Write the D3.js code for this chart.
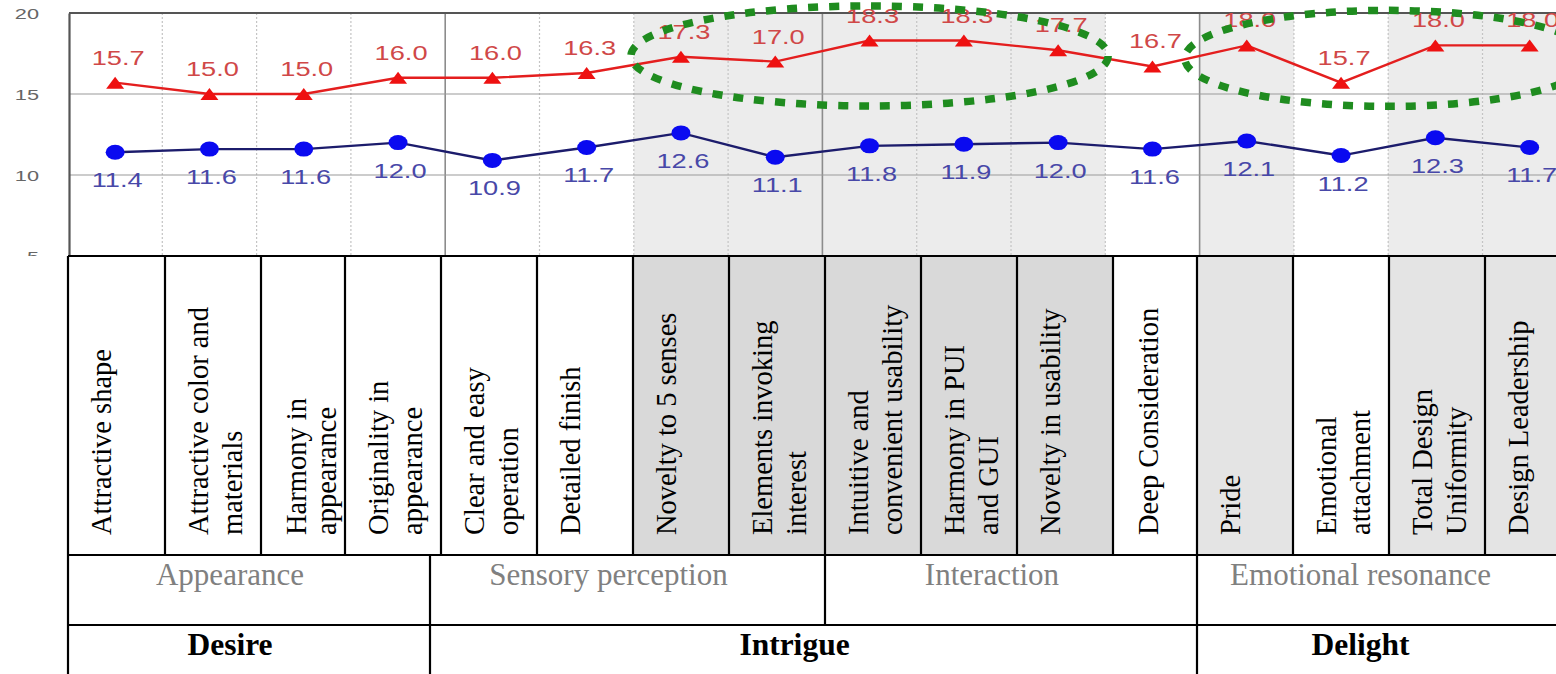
<!DOCTYPE html>
<html><head><meta charset="utf-8">
<script src="https://cdn.jsdelivr.net/npm/d3@7"></script>
<style>html,body{margin:0;padding:0;background:#fff;overflow:hidden}svg{display:block}</style>
</head><body>
<svg id="chart" width="1556" height="674"></svg>
<script>
// ---------------- data ----------------
const categories = [
  "Attractive shape",
  "Attractive color and\nmaterials",
  "Harmony in\nappearance",
  "Originality in\nappearance",
  "Clear and easy\noperation",
  "Detailed finish",
  "Novelty to 5 senses",
  "Elements invoking\ninterest",
  "Intuitive and\nconvenient usability",
  "Harmony in PUI\nand GUI",
  "Novelty in usability",
  "Deep Consideration",
  "Pride",
  "Emotional\nattachment",
  "Total Design\nUniformity",
  "Design Leadership"
];
const upperSeries = [15.7,15.0,15.0,16.0,16.0,16.3,17.3,17.0,18.3,18.3,17.7,16.7,18.0,15.7,18.0,18.0];
const lowerSeries = [11.4,11.6,11.6,12.0,10.9,11.7,12.6,11.1,11.8,11.9,12.0,11.6,12.1,11.2,12.3,11.7];
const yTicks = [5,10,15,20];
const subGroups = ["Appearance","Sensory perception","Interaction","Emotional resonance"];
const subGroupStart = [0,4,8,12];
const mainGroups = ["Desire","Intrigue","Delight"];
const mainGroupStart = [0,4,12];
const shadedA = [6,7,8,9,10];      // darker shaded columns
const shadedB = [12,14,15];        // lighter shaded columns
const highlights = [[6,10,17.35],[12,15,17.2]]; // [firstIndex,lastIndex,centerValue]

// ---------------- layout ----------------
const W = 1556, H = 674;
const plot = {left:69, top:13, bottom:256, right:1556};
const tableLeft = 68, tableTop = 256, rowSub = 555, rowMain = 625, tableRightCenter = 1562;
const colWidths = [97,96,84,96,96,96,96,96,96,96,96,84,96,96,96,96];
const groupEdgeOverride = {4:430};

const svg = d3.select("#chart");
svg.append("rect").attr("width",W).attr("height",H).attr("fill","#fff");

const n = categories.length;
const x = d3.scaleBand().domain(d3.range(n)).range([68, 68 + n*94.3]).padding(0);
const cx = i => x(i) + x.bandwidth()/2;
const y = d3.scaleLinear().domain([5,20]).range([plot.bottom, plot.top]);

// clip for plot
svg.append("clipPath").attr("id","pc").append("rect")
  .attr("x",plot.left).attr("y",plot.top).attr("width",plot.right-plot.left).attr("height",plot.bottom-plot.top);

const pg = svg.append("g").attr("clip-path","url(#pc)");
// shaded bands
pg.selectAll("rect.sh").data(shadedA.concat(shadedB)).join("rect")
  .attr("x",d=>x(d)).attr("y",plot.top).attr("width",x.bandwidth()).attr("height",plot.bottom-plot.top)
  .attr("fill","#ececec");
// vertical grid
const vlines = d3.range(1,n);
pg.selectAll("line.vg").data(vlines).join("line")
  .attr("x1",d=>x(d)).attr("x2",d=>x(d)).attr("y1",plot.top).attr("y2",plot.bottom)
  .attr("stroke",d=>subGroupStart.includes(d)?"#8c8c8c":"#c4c4c4")
  .attr("stroke-width",d=>subGroupStart.includes(d)?1.6:1.2)
  .attr("stroke-dasharray",d=>subGroupStart.includes(d)?null:"2,2");
// horizontal grid
pg.selectAll("line.hg").data(yTicks.filter(t=>t>5 && t<20)).join("line")
  .attr("x1",plot.left).attr("x2",plot.right).attr("y1",d=>y(d)).attr("y2",d=>y(d))
  .attr("stroke","#9a9a9a").attr("stroke-width",1.2);
// top border
svg.append("line").attr("x1",plot.left).attr("x2",plot.right).attr("y1",y(20)).attr("y2",y(20))
  .attr("stroke","#555").attr("stroke-width",2);

// y axis
const ax = svg.append("g").attr("transform",`translate(${plot.left},0)`)
  .call(d3.axisLeft(y).tickValues(yTicks).tickSize(0).tickFormat(d3.format("d")));
ax.select(".domain").attr("stroke","#555").attr("stroke-width",2.2);
ax.selectAll("text").attr("x",-30/1.45).attr("dy","0.36em").attr("transform","scale(1.45,1)")
  .attr("font-family","Liberation Sans, Arial, sans-serif").attr("font-size",15).attr("fill","#666");

// lines
const line = d3.line().x((d,i)=>cx(i)).y(d=>y(d));
pg.append("path").datum(upperSeries).attr("d",line).attr("fill","none").attr("stroke","#e41e1e").attr("stroke-width",2.4);
pg.append("path").datum(lowerSeries).attr("d",line).attr("fill","none").attr("stroke","#1c1c6c").attr("stroke-width",2.4);
// markers
pg.selectAll("path.tri").data(upperSeries).join("path")
  .attr("d",(d,i)=>{const px=cx(i),py=y(d);return `M${px},${py-6}L${px+9},${py+6}L${px-9},${py+6}Z`;})
  .attr("fill","#ee1111");
pg.selectAll("ellipse.dot").data(lowerSeries).join("ellipse")
  .attr("cx",(d,i)=>cx(i)).attr("cy",d=>y(d)).attr("rx",9.5).attr("ry",7.5).attr("fill","#0a0af0");

// value labels
const fmt = d3.format(".1f");
svg.selectAll("text.ul").data(upperSeries).join("text")
  .attr("transform",(d,i)=>`translate(${cx(i)+3},${y(d)-18}) scale(1.36,1)`)
  .attr("text-anchor","middle").attr("font-family","Liberation Sans, Arial, sans-serif")
  .attr("font-size",20).attr("fill","#d04848").text(d=>fmt(d));
svg.selectAll("text.ll").data(lowerSeries).join("text")
  .attr("transform",(d,i)=>`translate(${cx(i)+2},${y(d)+35}) scale(1.36,1)`)
  .attr("text-anchor","middle").attr("font-family","Liberation Sans, Arial, sans-serif")
  .attr("font-size",20).attr("fill","#4848a8").text(d=>fmt(d));

// green dotted highlight ellipses
svg.selectAll("ellipse.hl").data(highlights).join("ellipse")
  .attr("cx",d=>(cx(d[0])+cx(d[1]))/2)
  .attr("cy",d=>y(d[2]))
  .attr("rx",(d,i)=>(cx(d[1])-cx(d[0]))/2 + (i===0?50:62))
  .attr("ry",(d,i)=>i===0?50:48)
  .attr("fill","none").attr("stroke","#1f8c1f").attr("stroke-width",7.5)
  .attr("stroke-dasharray","10,11");

// ---------------- table ----------------
const colEdges = [tableLeft];
colWidths.forEach(w=>colEdges.push(colEdges[colEdges.length-1]+w));
const tg = svg.append("g");
tg.append("rect").attr("x",0).attr("y",tableTop).attr("width",W).attr("height",H-tableTop).attr("fill","#fff");
tg.selectAll("rect.cell").data(d3.range(n)).join("rect")
  .attr("x",i=>colEdges[i]).attr("y",tableTop).attr("width",i=>colWidths[i]).attr("height",rowSub-tableTop)
  .attr("fill",i=>shadedA.includes(i)?"#d9d9d9":(shadedB.includes(i)?"#e4e4e4":"#fff"));

// header labels (rotated)
categories.forEach((c,i)=>{
  const lines = c.split("\n");
  const narrow = colWidths[i] < 90;
  const first = colEdges[i] + (narrow?45:43);
  const step = narrow?30:34;
  lines.forEach((t,k)=>{
    tg.append("text")
      .attr("transform",`translate(${first+k*step},535) rotate(-90)`)
      .attr("font-family","Liberation Serif, 'Times New Roman', serif")
      .attr("font-size",28.5).attr("fill","#000").text(t);
  });
});

const gx = i => groupEdgeOverride[i]!==undefined ? groupEdgeOverride[i] : colEdges[i];
// group rows text
subGroups.forEach((g,k)=>{
  const a = gx(subGroupStart[k]);
  const b = k+1<subGroups.length ? gx(subGroupStart[k+1]) : tableRightCenter;
  tg.append("text").attr("x",(a+b)/2-19).attr("y",585).attr("text-anchor","middle")
    .attr("font-family","Liberation Serif, 'Times New Roman', serif").attr("font-size",31)
    .attr("fill","#808080").text(g);
});
mainGroups.forEach((g,k)=>{
  const a = gx(mainGroupStart[k]);
  const b = k+1<mainGroups.length ? gx(mainGroupStart[k+1]) : tableRightCenter;
  tg.append("text").attr("x",(a+b)/2-19).attr("y",655).attr("text-anchor","middle")
    .attr("font-family","Liberation Serif, 'Times New Roman', serif").attr("font-size",31.5)
    .attr("font-weight","bold").attr("fill","#000").text(g);
});

// table lines
const ls = sel => sel.attr("stroke","#000").attr("stroke-width",2.2);
[tableTop,rowSub,rowMain].forEach(yy=>ls(tg.append("line").attr("x1",tableLeft).attr("x2",W).attr("y1",yy).attr("y2",yy)));
colEdges.forEach(xx=>ls(tg.append("line").attr("x1",xx).attr("x2",xx).attr("y1",tableTop).attr("y2",rowSub)));
subGroupStart.forEach(i=>ls(tg.append("line").attr("x1",gx(i)).attr("x2",gx(i)).attr("y1",rowSub).attr("y2",rowMain)));
mainGroupStart.forEach(i=>ls(tg.append("line").attr("x1",gx(i)).attr("x2",gx(i)).attr("y1",rowMain).attr("y2",H)));
</script>
</body></html>
